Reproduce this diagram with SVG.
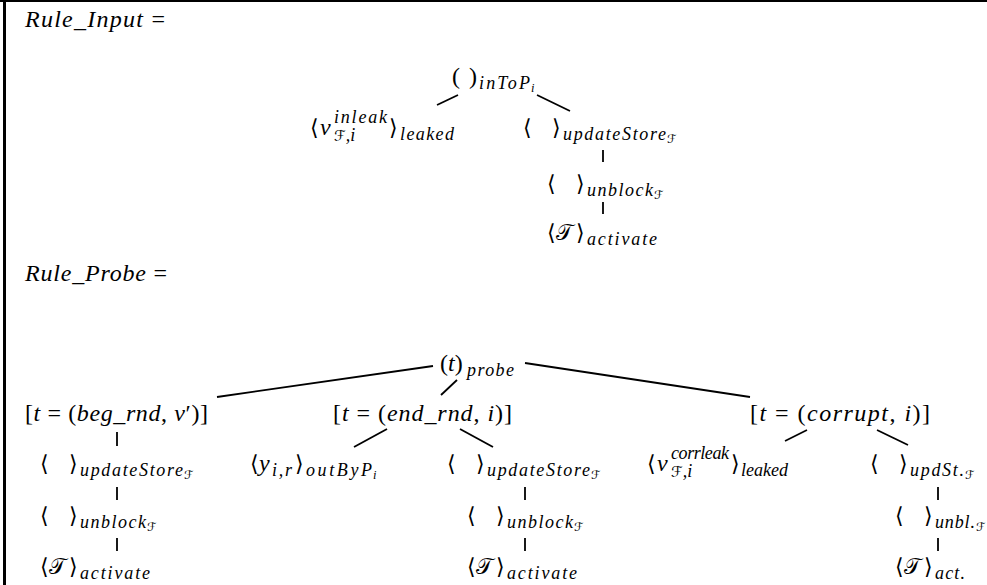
<svg xmlns="http://www.w3.org/2000/svg" width="987" height="585" viewBox="0 0 987 585">
  <style>
    text { font-family: "Liberation Serif", "DejaVu Serif", serif; fill: #000; }
    .m { font-size: 24px; font-style: italic; }
    .u { font-style: normal; }
    .s { font-size: 18px; font-style: italic; }
    .ss { font-size: 12.5px; font-style: italic; }
    .b { font-family: "DejaVu Serif", "DejaVu Sans", serif; font-style: normal; font-size: 22px; }
    .cal { font-family: "DejaVu Serif", "DejaVu Sans", serif; font-style: normal; }
    .f { font-size: 12px; }
    .edge { stroke: #000; stroke-width: 1.8; fill: none; }
  </style>

  <!-- page frame -->
  <rect x="0" y="0" width="987" height="585" fill="#fff"/>
  <line x1="0" y1="1" x2="987" y2="1" stroke="#000" stroke-width="2"/>
  <line x1="4.5" y1="0" x2="4.5" y2="585" stroke="#000" stroke-width="3"/>

  <!-- rule headings -->
  <text id="rule-input" class="m" x="25" y="27" textLength="140" lengthAdjust="spacing">Rule_Input <tspan class="u">=</tspan></text>
  <text id="rule-probe" class="m" x="25" y="281" textLength="142" lengthAdjust="spacing">Rule_Probe <tspan class="u">=</tspan></text>

  <!-- connectors -->
  <g id="connectors" class="edge">
    <line x1="437" y1="105" x2="458" y2="95"/>
    <line x1="537" y1="95" x2="570" y2="111"/>
    <line x1="603" y1="150" x2="603" y2="162"/>
    <line x1="603" y1="202" x2="603" y2="214"/>

    <line x1="217" y1="397" x2="433" y2="366"/>
    <line x1="457" y1="380" x2="441" y2="395"/>
    <line x1="525" y1="363" x2="750" y2="397"/>
    <line x1="117" y1="432" x2="117" y2="446"/>
    <line x1="117" y1="487" x2="117" y2="500"/>
    <line x1="117" y1="538" x2="117" y2="551"/>
    <line x1="387" y1="429" x2="354" y2="447"/>
    <line x1="460" y1="429" x2="493" y2="447"/>
    <line x1="525" y1="487" x2="525" y2="500"/>
    <line x1="525" y1="538" x2="525" y2="551"/>
    <line x1="807" y1="430" x2="785" y2="441"/>
    <line x1="877" y1="430" x2="908" y2="445"/>
    <line x1="938" y1="487" x2="938" y2="500"/>
    <line x1="938" y1="538" x2="938" y2="551"/>
  </g>

  <!-- Rule_Input tree -->
  <g id="in-root">
    <text class="m u" x="452" y="84">(</text>
    <text class="m u" x="469" y="84">)</text>
    <text class="s" x="479" y="89" textLength="51" lengthAdjust="spacing">inToP</text>
    <text class="ss" x="531" y="92">i</text>
  </g>
  <g id="in-leaked">
    <text class="b" x="310" y="135">⟨</text>
    <text class="m" x="320" y="135">v</text>
    <text class="s" x="334" y="123" textLength="53" lengthAdjust="spacing">inleak</text>
    <text class="s" x="334" y="141"><tspan class="cal" font-size="15">ℱ</tspan>,i</text>
    <text class="b" x="389" y="135">⟩</text>
    <text class="s" x="400" y="140" textLength="54" lengthAdjust="spacing">leaked</text>
  </g>
  <g id="in-update">
    <text class="b" x="523" y="135">⟨</text>
    <text class="b" x="552" y="135">⟩</text>
    <text class="s" x="563" y="140" textLength="103" lengthAdjust="spacing">updateStore</text>
    <text class="cal f" x="667" y="143">ℱ</text>
  </g>
  <g id="in-unblock">
    <text class="b" x="547" y="191">⟨</text>
    <text class="b" x="576" y="191">⟩</text>
    <text class="s" x="587" y="196" textLength="66" lengthAdjust="spacing">unblock</text>
    <text class="cal f" x="654" y="199">ℱ</text>
  </g>
  <g id="in-activate">
    <text class="b" x="547" y="240">⟨</text>
    <text class="cal" font-size="22" x="556" y="240">𝒯</text>
    <text class="b" x="576" y="240">⟩</text>
    <text class="s" x="587" y="245" textLength="70" lengthAdjust="spacing">activate</text>
  </g>

  <!-- Rule_Probe tree -->
  <g id="probe-root">
    <text class="m" x="440" y="371"><tspan class="u">(</tspan>t<tspan class="u">)</tspan></text>
    <text class="s" x="467" y="376" textLength="47" lengthAdjust="spacing">probe</text>
  </g>
  <g id="probe-beg">
    <text class="m" x="25" y="421" textLength="183" lengthAdjust="spacing"><tspan class="u">[</tspan>t <tspan class="u">= (</tspan>beg_rnd<tspan class="u">, </tspan>v<tspan class="u">′)]</tspan></text>
  </g>
  <g id="probe-end">
    <text class="m" x="333" y="421" textLength="179" lengthAdjust="spacing"><tspan class="u">[</tspan>t <tspan class="u">= (</tspan>end_rnd<tspan class="u">, </tspan>i<tspan class="u">)]</tspan></text>
  </g>
  <g id="probe-corrupt">
    <text class="m" x="750" y="421" textLength="180" lengthAdjust="spacing"><tspan class="u">[</tspan>t <tspan class="u">= (</tspan>corrupt<tspan class="u">, </tspan>i<tspan class="u">)]</tspan></text>
  </g>

  <g id="beg-update">
    <text class="b" x="40" y="471">⟨</text>
    <text class="b" x="69" y="471">⟩</text>
    <text class="s" x="80" y="476" textLength="103" lengthAdjust="spacing">updateStore</text>
    <text class="cal f" x="184" y="479">ℱ</text>
  </g>
  <g id="beg-unblock">
    <text class="b" x="40" y="523">⟨</text>
    <text class="b" x="69" y="523">⟩</text>
    <text class="s" x="80" y="528" textLength="66" lengthAdjust="spacing">unblock</text>
    <text class="cal f" x="147" y="531">ℱ</text>
  </g>
  <g id="beg-activate">
    <text class="b" x="40" y="574">⟨</text>
    <text class="cal" font-size="22" x="49" y="574">𝒯</text>
    <text class="b" x="69" y="574">⟩</text>
    <text class="s" x="80" y="579" textLength="70" lengthAdjust="spacing">activate</text>
  </g>

  <g id="end-out">
    <text class="b" x="250" y="471">⟨</text>
    <text class="m" x="259" y="471">y</text>
    <text class="s" x="272" y="476" textLength="20" lengthAdjust="spacing">i,r</text>
    <text class="b" x="295" y="471">⟩</text>
    <text class="s" x="306" y="476" textLength="66" lengthAdjust="spacing">outByP</text>
    <text class="ss" x="373" y="479">i</text>
  </g>
  <g id="end-update">
    <text class="b" x="447" y="471">⟨</text>
    <text class="b" x="476" y="471">⟩</text>
    <text class="s" x="487" y="476" textLength="103" lengthAdjust="spacing">updateStore</text>
    <text class="cal f" x="591" y="479">ℱ</text>
  </g>
  <g id="end-unblock">
    <text class="b" x="467" y="523">⟨</text>
    <text class="b" x="496" y="523">⟩</text>
    <text class="s" x="507" y="528" textLength="66" lengthAdjust="spacing">unblock</text>
    <text class="cal f" x="574" y="531">ℱ</text>
  </g>
  <g id="end-activate">
    <text class="b" x="467" y="574">⟨</text>
    <text class="cal" font-size="22" x="476" y="574">𝒯</text>
    <text class="b" x="496" y="574">⟩</text>
    <text class="s" x="507" y="579" textLength="70" lengthAdjust="spacing">activate</text>
  </g>

  <g id="corr-leaked">
    <text class="b" x="647" y="471">⟨</text>
    <text class="m" x="657" y="471">v</text>
    <text class="s" x="671" y="459" textLength="58" lengthAdjust="spacing">corrleak</text>
    <text class="s" x="671" y="477"><tspan class="cal" font-size="15">ℱ</tspan>,i</text>
    <text class="b" x="731" y="471">⟩</text>
    <text class="s" x="741" y="476" textLength="47" lengthAdjust="spacing">leaked</text>
  </g>
  <g id="corr-update">
    <text class="b" x="870" y="471">⟨</text>
    <text class="b" x="899" y="471">⟩</text>
    <text class="s" x="910" y="476" textLength="54" lengthAdjust="spacing">updSt.</text>
    <text class="cal f" x="965" y="479">ℱ</text>
  </g>
  <g id="corr-unblock">
    <text class="b" x="895" y="523">⟨</text>
    <text class="b" x="924" y="523">⟩</text>
    <text class="s" x="935" y="528" textLength="40" lengthAdjust="spacing">unbl.</text>
    <text class="cal f" x="976" y="531">ℱ</text>
  </g>
  <g id="corr-activate">
    <text class="b" x="895" y="574">⟨</text>
    <text class="cal" font-size="22" x="904" y="574">𝒯</text>
    <text class="b" x="924" y="574">⟩</text>
    <text class="s" x="935" y="579" textLength="30" lengthAdjust="spacing">act.</text>
  </g>
</svg>
